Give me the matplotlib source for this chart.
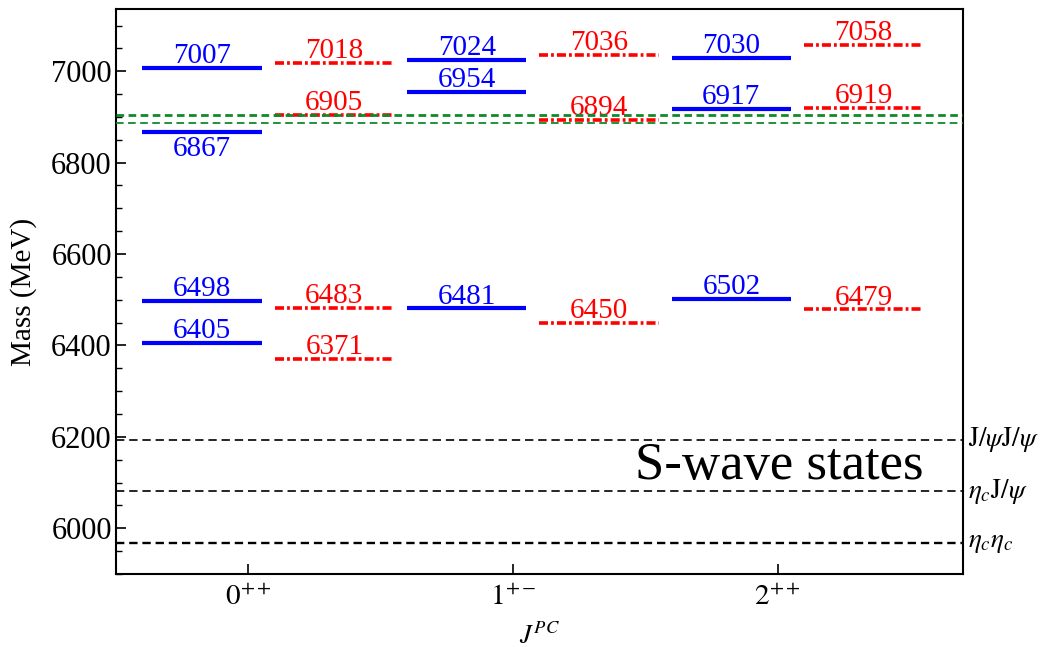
import matplotlib
matplotlib.use("Agg")
import matplotlib.pyplot as plt
from matplotlib.transforms import blended_transform_factory
from matplotlib.ticker import MultipleLocator

plt.rcParams["font.family"] = ["Liberation Serif", "DejaVu Serif"]
plt.rcParams["mathtext.fontset"] = "stix"
plt.rcParams["lines.scale_dashes"] = False

# Quantum numbers and predicted tetraquark masses (MeV)
categories = [r"$0^{++}$", r"$1^{+-}$", r"$2^{++}$"]
blue_masses = [
    [6405, 6498, 6867, 7007],
    [6481, 6954, 7024],
    [6502, 6917, 7030],
]
red_masses = [
    [6371, 6483, 6905, 7018],
    [6450, 6894, 7036],
    [6479, 6919, 7058],
]
# labels drawn below their level instead of above
blue_below = [6867]

# Two-meson thresholds
threshold_masses = [6194, 6081, 5968]
threshold_labels = [r"$\mathrm{J}/\psi\mathrm{J}/\psi$",
                    r"$\eta_c\mathrm{J}/\psi$",
                    r"$\eta_c\eta_c$"]
threshold_widths = [1.2, 1.2, 1.7]

# Measured X(6900) masses
x6900_masses = [6905, 6886]
x6900_widths = [2.0, 1.3]

fig = plt.figure(figsize=(10.45, 6.47), dpi=100)
ax = fig.add_axes([0.111, 0.1128, 0.8105, 0.8732])

xpos = [1, 2, 3]
fs = 21

for c, levels in zip(xpos, blue_masses):
    for m in levels:
        ax.hlines(m, c - 0.40, c + 0.05, colors="#0000ff", linewidth=3.0, zorder=3)
        xc = c - 0.175
        if m in blue_below:
            ax.annotate(str(m), (xc, m), xytext=(0, -3), textcoords="offset points",
                        ha="center", va="top", color="#0000ff", fontsize=fs, zorder=4)
        else:
            ax.annotate(str(m), (xc, m), xytext=(0, 3.5), textcoords="offset points",
                        ha="center", va="baseline", color="#0000ff", fontsize=fs, zorder=4)

for c, levels in zip(xpos, red_masses):
    for m in levels:
        ax.hlines(m, c + 0.10, c + 0.55, colors="#ff0000", linewidth=2.6,
                  linestyles=[(0, (6.5, 2.2, 2.0, 2.2))], zorder=3)
        ax.annotate(str(m), (c + 0.325, m), xytext=(0, 3.5), textcoords="offset points",
                    ha="center", va="baseline", color="#ff0000", fontsize=fs, zorder=4)

for m, lw in zip(x6900_masses, x6900_widths):
    ax.axhline(m, color="#0f8a2a", linewidth=lw, linestyle=(0, (5.5, 3.2)), zorder=5)

trans = blended_transform_factory(ax.transAxes, ax.transData)
for m, lab, lw in zip(threshold_masses, threshold_labels, threshold_widths):
    ax.axhline(m, color="black", linewidth=lw, linestyle=(0, (6.0, 3.5)), zorder=2)
    ax.text(1.006, m, lab, transform=trans, ha="left", va="center", fontsize=19.5,
            clip_on=False)

ax.text(0.783, 6137, "S-wave states", ha="center", va="center", fontsize=38,
        transform=trans)

ax.set_xlim(0.5, 3.7)
ax.set_ylim(5900, 7136)
ax.set_xticks(xpos)
ax.set_xticklabels(categories, fontsize=fs)
ax.yaxis.set_major_locator(MultipleLocator(200))
ax.yaxis.set_minor_locator(MultipleLocator(50))
ax.tick_params(axis="y", which="major", direction="in", length=7, width=1.2,
               labelsize=22, right=False, pad=3)
ax.tick_params(axis="y", which="minor", direction="in", length=4, width=1.0, right=False)
ax.tick_params(axis="x", which="major", direction="in", length=7, width=1.2,
               top=False, pad=8)
for s in ax.spines.values():
    s.set_linewidth(1.5)

ax.set_ylabel("Mass (MeV)", fontsize=fs, labelpad=10)
ax.set_xlabel(r"$J^{PC}$", fontsize=19, labelpad=8)

fig.savefig("out.png", dpi=100)
